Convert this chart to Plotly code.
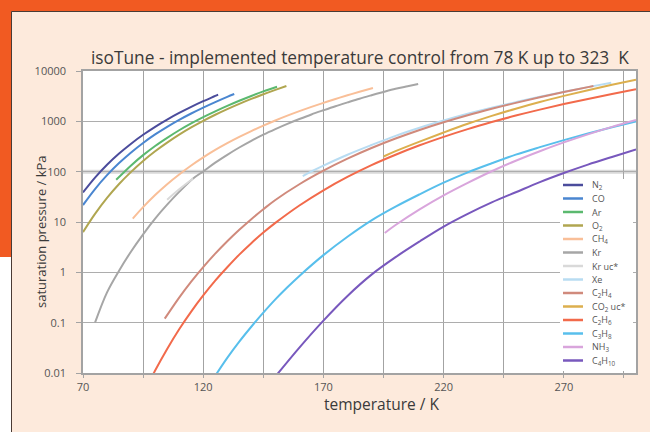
import plotly.graph_objects as go

# ---- saturation pressure curves: temperature in K, pressure in kPa ----
N2_T = [70, 75, 80, 85, 90, 95, 100, 105, 110, 115, 120, 125, 126.2]
N2_P = [38.6, 76.1, 137, 229, 360, 540, 779, 1084, 1467, 1939, 2513, 3200, 3396]

CO_T = [70, 75, 80, 85, 90, 95, 100, 105, 110, 115, 120, 125, 130, 132.9]
CO_P = [21.7, 45.2, 85.2, 148, 241, 372, 549, 778, 1069, 1431, 1875, 2413, 3064, 3494]

AR_T = [83.8, 90, 95, 100, 105, 110, 115, 120, 125, 130, 135, 140, 145, 150.7]
AR_P = [68.9, 133, 213, 324, 470, 665, 910, 1213, 1580, 2027, 2560, 3190, 3930, 4863]

O2_T = [70, 75, 80, 85, 90, 95, 100, 105, 110, 115, 120, 125, 130, 135, 140, 145, 150, 154.6]
O2_P = [6.3, 14.5, 30.1, 56.8, 99.0, 163, 254, 377, 543, 756, 1022, 1351, 1749, 2225, 2787, 3446, 4215, 5043]

CH4_T = [90.7, 95, 100, 105, 110, 115, 120, 125, 130, 135, 140, 145, 150, 155, 160, 165, 170,
         175, 180, 185, 190.6]
CH4_P = [11.7, 19.8, 34.4, 56.5, 88.0, 132.6, 192, 270, 368, 490, 641, 822, 1040, 1296, 1593, 1936,
         2329, 2777, 3286, 3863, 4599]

KR_T = [75, 80, 85, 90, 95, 100, 105, 110, 115.8, 120, 125, 130, 135, 140, 145, 150, 155, 160, 165,
        170, 175, 180, 185, 190, 195, 200, 205, 209.4]
KR_P = [0.10, 0.40, 1.08, 2.6, 5.7, 11.7, 22.1, 39.6, 73.2, 101, 151, 216, 302, 410, 543, 700, 890,
        1110, 1370, 1660, 2000, 2380, 2820, 3300, 3840, 4430, 4990, 5525]

KR_UC_T = [105, 110, 115.8]
KR_UC_P = [27.7, 44.7, 73.2]

XE_T = [161.4, 165, 170, 180, 190, 200, 210, 220, 230, 240, 250, 260, 270, 280, 289.7]
XE_P = [81.6, 101, 132, 217, 338, 515, 745, 1039, 1410, 1862, 2410, 3073, 3860, 4779, 5842]

C2H4_T = [104, 110, 115, 120, 125, 130, 135, 140, 145, 150, 160, 170, 180, 190, 200, 210, 220, 230,
          240, 250, 260, 270, 280, 282.3]
C2H4_P = [0.12, 0.315, 0.653, 1.27, 2.35, 4.14, 7.0, 11.4, 17.9, 27.4, 56.2, 104.5, 181, 295, 455, 673,
          957, 1320, 1772, 2326, 2999, 3812, 4786, 5041]

CO2_UC_T = [195, 200, 210, 220, 230, 240, 250, 260, 270, 280, 290, 300]
CO2_UC_P = [200, 256, 396, 600, 893, 1283, 1785, 2419, 3203, 4161, 5318, 6713]

C2H6_T = [98, 100, 105, 110, 115, 120, 125, 130, 135, 140, 145, 150, 160, 170, 180, 190, 200, 210,
          220, 230, 240, 250, 260, 270, 280, 290, 300]
C2H6_P = [0.0073, 0.0112, 0.030, 0.074, 0.166, 0.347, 0.683, 1.26, 2.25, 3.8, 6.17, 9.6, 21.3, 42.7,
          78.6, 135, 217, 334, 492, 701, 967, 1301, 1709, 2202, 2788, 3478, 4360]

C3H8_T = [125, 130, 135, 140, 145, 150, 155, 160, 170, 180, 190, 200, 210, 220, 230, 240, 250, 260,
          270, 280, 290, 300]
C3H8_P = [0.0088, 0.02, 0.042, 0.083, 0.158, 0.29, 0.505, 0.85, 2.2, 5.1, 10.8, 20.2, 35.5, 60.5, 97,
          147, 218, 307, 424, 574, 763, 998]

NH3_T = [195.5, 200, 210, 220, 230, 240, 250, 260, 270, 280, 290, 300]
NH3_P = [6.06, 8.7, 17.8, 33.8, 59.9, 102, 165, 255, 381, 551, 775, 1062]

C4H10_T = [150, 160, 170, 180, 190, 200, 210, 220, 230, 240, 250, 260, 270, 280, 290, 300]
C4H10_P = [0.0085, 0.032, 0.11, 0.34, 0.9, 2.0, 4.1, 8.1, 14.5, 24.5, 39, 62, 94, 138, 196, 275]

NAMES = ["N<sub>2</sub>", "CO", "Ar", "O<sub>2</sub>", "CH<sub>4</sub>", "Kr", "Kr uc*", "Xe",
         "C<sub>2</sub>H<sub>4</sub>", "CO<sub>2</sub> uc*", "C<sub>2</sub>H<sub>6</sub>",
         "C<sub>3</sub>H<sub>8</sub>", "NH<sub>3</sub>", "C<sub>4</sub>H<sub>10</sub>"]
COLORS = ["#4b4c9c", "#4a86d0", "#5bb96f", "#b0a650", "#f9bf98", "#a6a6a6", "#d9d9d9", "#b8dcf2",
          "#d08a7c", "#dcaf4e", "#f26a4b", "#58bfec", "#d9a5dc", "#7858bd"]
CURVES = [(N2_T, N2_P), (CO_T, CO_P), (AR_T, AR_P), (O2_T, O2_P), (CH4_T, CH4_P), (KR_T, KR_P),
          (KR_UC_T, KR_UC_P), (XE_T, XE_P), (C2H4_T, C2H4_P), (CO2_UC_T, CO2_UC_P),
          (C2H6_T, C2H6_P), (C3H8_T, C3H8_P), (NH3_T, NH3_P), (C4H10_T, C4H10_P)]

X_TICKS = [70, 120, 170, 220, 270]
Y_TICKS = [0.01, 0.1, 1, 10, 100, 1000, 10000]
Y_TICKTEXT = ["0.01", "0.1", "1", "10", "100", "1000", "10000"]

TITLE = "isoTune - implemented temperature control from 78 K up to 323  K"

# ---- page geometry (pixels) ----
W, H = 650, 432
ML, MR, MT, MB = 83, 14, 71, 59
PW, PH = W - ML - MR, H - MT - MB


def px(x):
    return (x - ML) / PW


def py(y):
    return (H - MB - y) / PH


FONT = "Open Sans, Arial, sans-serif"
ORANGE = "#f15a22"
CREAM = "#fdeadc"
GRID = "#a3a3a3"

fig = go.Figure()
for (t, p), name, col in zip(CURVES, NAMES, COLORS):
    fig.add_trace(go.Scatter(x=t, y=p, mode="lines", name=name, showlegend=False,
                             line=dict(color=col, width=2, shape="spline", smoothing=1.0)))

shapes = [
    # frame of the page
    dict(type="rect", xref="paper", yref="paper", x0=px(0), x1=px(W), y0=py(11.5), y1=py(0),
         fillcolor=ORANGE, line=dict(width=0), layer="below"),
    dict(type="rect", xref="paper", yref="paper", x0=px(0), x1=px(11.5), y0=py(257), y1=py(0),
         fillcolor=ORANGE, line=dict(width=0), layer="below"),
    dict(type="rect", xref="paper", yref="paper", x0=px(0), x1=px(11.5), y0=py(H), y1=py(257),
         fillcolor="white", line=dict(width=0), layer="below"),
    dict(type="line", xref="paper", yref="paper", x0=px(11.5), x1=px(W), y0=py(11.5), y1=py(11.5),
         line=dict(color="#4a3b35", width=1)),
    dict(type="line", xref="paper", yref="paper", x0=px(11.5), x1=px(11.5), y0=py(11.5), y1=py(H),
         line=dict(color="#4a3b35", width=1)),
    # emphasised 100 kPa line
    dict(type="line", xref="paper", yref="y", x0=0, x1=1, y0=100, y1=100,
         line=dict(color="#d9d9d9", width=4), layer="between"),
    # legend panel
    dict(type="rect", xref="paper", yref="paper", x0=px(560), x1=px(633), y0=py(371), y1=py(179),
         fillcolor="white", line=dict(width=0), layer="above"),
]

annotations = [
    dict(text=TITLE, xref="paper", yref="paper", x=0.5, y=py(57), xanchor="center", yanchor="middle",
         showarrow=False, font=dict(family=FONT, size=17.3, color="#3a3a3a")),
    dict(text="temperature / K", xref="paper", yref="paper", x=px(382), y=py(404), xanchor="center",
         yanchor="middle", showarrow=False, font=dict(family=FONT, size=15.5, color="#3a3a3a")),
    dict(text="saturation pressure / kPa", xref="paper", yref="paper", x=px(41), y=py(232),
         xanchor="center", yanchor="middle", textangle=-90, showarrow=False,
         font=dict(family=FONT, size=13, color="#3a3a3a")),
]

# legend entries
for i, (name, col) in enumerate(zip(NAMES, COLORS)):
    yy = 185 + 13.5 * i
    shapes.append(dict(type="line", xref="paper", yref="paper", x0=px(563), x1=px(583),
                       y0=py(yy), y1=py(yy), line=dict(color=col, width=2.5), layer="above"))
    annotations.append(dict(text=name, xref="paper", yref="paper", x=px(590), y=py(yy),
                            xanchor="left", yanchor="middle", showarrow=False,
                            font=dict(family=FONT, size=9, color="#555555")))

fig.update_layout(
    width=W, height=H,
    margin=dict(l=ML, r=MR, t=MT, b=MB, pad=0),
    paper_bgcolor=CREAM, plot_bgcolor="white",
    showlegend=False,
    shapes=shapes, annotations=annotations,
    xaxis=dict(range=[70, 300], tickmode="array", tickvals=X_TICKS,
               showgrid=True, gridcolor=GRID, gridwidth=1.4,
               minor=dict(tick0=70, dtick=25, showgrid=True, gridcolor=GRID, gridwidth=1.4,
                          ticks="outside", ticklen=3, tickcolor=GRID),
               ticks="outside", ticklen=3, tickcolor=GRID,
               showline=True, linecolor=GRID, linewidth=1.5, mirror=True, zeroline=False,
               tickfont=dict(family=FONT, size=11, color="#555555")),
    yaxis=dict(type="log", range=[-2, 4], tickmode="array", tickvals=Y_TICKS, ticktext=Y_TICKTEXT,
               showgrid=True, gridcolor="#adadad", gridwidth=1.4,
               ticks="outside", ticklen=5, tickcolor=GRID, ticklabelstandoff=8,
               showline=True, linecolor=GRID, linewidth=1.5, mirror=True, zeroline=False,
               tickfont=dict(family=FONT, size=11, color="#555555")),
)

fig.write_html("out.html")
